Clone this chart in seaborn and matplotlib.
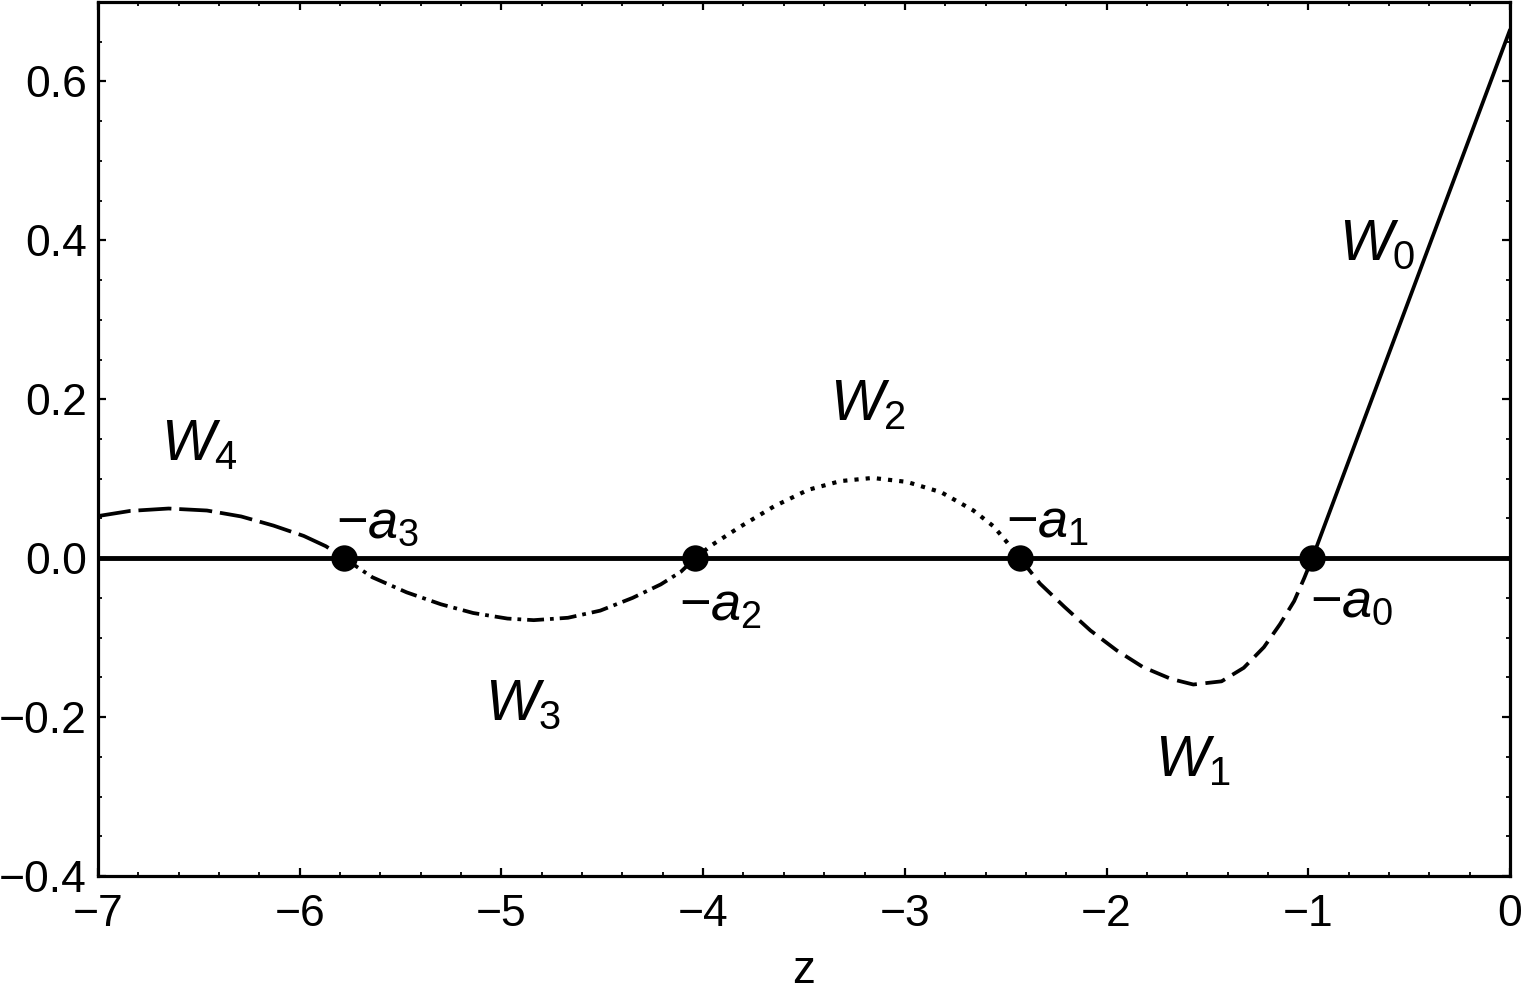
import numpy as np
import pandas as pd
import matplotlib
matplotlib.use("Agg")
import matplotlib.pyplot as plt
import seaborn as sns
from matplotlib.ticker import MultipleLocator, FuncFormatter

# ---- data ----
w0_z = [-0.98, 0.0]
w0_y = [0.0, 0.665]

w1_z = [-2.43, -2.33, -2.21, -2.08, -1.95, -1.82, -1.68, -1.57, -1.43, -1.32, -1.22, -1.14, -1.07, -1.02, -0.98]
w1_y = [0.0, -0.032, -0.061, -0.091, -0.116, -0.137, -0.152, -0.159, -0.155, -0.138, -0.112, -0.083, -0.054, -0.025, 0.0]

w2_z = [-4.04, -3.96, -3.82, -3.65, -3.48, -3.32, -3.16, -2.99, -2.82, -2.66, -2.56, -2.50, -2.43]
w2_y = [0.0, 0.016, 0.039, 0.065, 0.086, 0.097, 0.101, 0.096, 0.083, 0.060, 0.040, 0.022, 0.0]

w3_z = [-5.78, -5.64, -5.47, -5.30, -5.14, -4.97, -4.84, -4.67, -4.51, -4.35, -4.21, -4.11, -4.04]
w3_y = [0.0, -0.024, -0.043, -0.058, -0.069, -0.076, -0.078, -0.075, -0.066, -0.050, -0.033, -0.017, 0.0]

w4_z = [-7.0, -6.84, -6.65, -6.46, -6.29, -6.13, -5.98, -5.87, -5.78]
w4_y = [0.053, 0.0595, 0.0625, 0.060, 0.0525, 0.041, 0.028, 0.015, 0.0]

zeros_z = [-0.98, -2.43, -4.04, -5.78]
zeros_y = [0.0, 0.0, 0.0, 0.0]

branch_labels = [r'$W_0$', r'$W_1$', r'$W_2$', r'$W_3$', r'$W_4$']
branch_label_z = [-0.85, -1.76, -3.37, -5.08, -6.69]
branch_label_y = [0.375, -0.274, 0.174, -0.204, 0.123]

zero_labels = [r'$-a_0$', r'$-a_1$', r'$-a_2$', r'$-a_3$']
zero_label_z = [-0.99, -2.50, -4.12, -5.82]
zero_label_y = [-0.074, 0.026, -0.078, 0.026]

x_ticks = [-7, -6, -5, -4, -3, -2, -1, 0]
y_ticks = [-0.4, -0.2, 0.0, 0.2, 0.4, 0.6]

# ---- style ----
sns.set_theme(style="ticks")
plt.rcParams['font.family'] = ['Liberation Sans', 'DejaVu Sans']
plt.rcParams['mathtext.fontset'] = 'custom'
plt.rcParams['mathtext.rm'] = 'Liberation Sans'
plt.rcParams['mathtext.it'] = 'Liberation Sans:italic'
plt.rcParams['mathtext.sf'] = 'Liberation Sans'
plt.rcParams['axes.unicode_minus'] = True

fig = plt.figure(figsize=(15.28, 10), dpi=100)
ax = fig.add_axes([98 / 1528, 124 / 1000, (1510 - 98) / 1528, (876 - 2) / 1000])

LW = 2.7
ax.axhline(0, color='black', lw=3.5, zorder=2)

segments = [
    (w0_z, w0_y, None, LW),
    (w1_z, w1_y, (5.4, 2.3), LW),
    (w2_z, w2_y, (1.0, 1.7), 3.0),
    (w3_z, w3_y, (4.5, 1.6, 1.0, 1.6), LW),
    (w4_z, w4_y, (8.8, 2.1), LW),
]
for zs, ys, dash, lw in segments:
    df = pd.DataFrame({'z': zs, 'w': ys})
    n_before = len(ax.lines)
    sns.lineplot(data=df, x='z', y='w', ax=ax, color='black', lw=lw,
                 sort=False, estimator=None, zorder=3)
    line = ax.lines[n_before]
    line.set_solid_joinstyle('round')
    if dash is not None:
        line.set_dashes(dash)
        line.set_dash_capstyle('butt')
        line.set_dash_joinstyle('round')

dfz = pd.DataFrame({'z': zeros_z, 'w': zeros_y})
sns.scatterplot(data=dfz, x='z', y='w', ax=ax, color='black', s=19 ** 2,
                edgecolor='black', linewidth=0, zorder=5)

for lab, zx, yy in zip(branch_labels, branch_label_z, branch_label_y):
    ax.text(zx, yy, lab, fontsize=41, ha='left', va='baseline', color='black')
for lab, zx, yy in zip(zero_labels, zero_label_z, zero_label_y):
    ax.text(zx, yy, lab, fontsize=39, ha='left', va='baseline', color='black')

def fmt_y(v, pos):
    s = '%.1f' % v
    if s == '-0.0':
        s = '0.0'
    return s.replace('-', '\u2212')

def fmt_x(v, pos):
    return ('%d' % round(v)).replace('-', '\u2212')

ax.set_xlim(-7, 0)
ax.set_ylim(-0.4, 0.7)
ax.set_xticks(x_ticks)
ax.set_yticks(y_ticks)
ax.xaxis.set_minor_locator(MultipleLocator(0.2))
ax.yaxis.set_minor_locator(MultipleLocator(0.05))
ax.yaxis.set_major_formatter(FuncFormatter(fmt_y))
ax.xaxis.set_major_formatter(FuncFormatter(fmt_x))
ax.tick_params(which='both', direction='in', top=True, right=True, color='black',
               labelcolor='black')
ax.tick_params(which='major', length=6, width=1.6, labelsize=32)
ax.tick_params(axis='x', which='major', pad=13)
ax.tick_params(axis='y', which='major', pad=8)
ax.tick_params(which='minor', length=3, width=1.3)
for sp in ax.spines.values():
    sp.set_linewidth(2.3)
    sp.set_color('black')
ax.set_xlabel('z', fontsize=33, labelpad=10, color='black')
ax.set_ylabel('')
ax.set_facecolor('white')
fig.patch.set_facecolor('white')

fig.savefig('out.png', dpi=100)
